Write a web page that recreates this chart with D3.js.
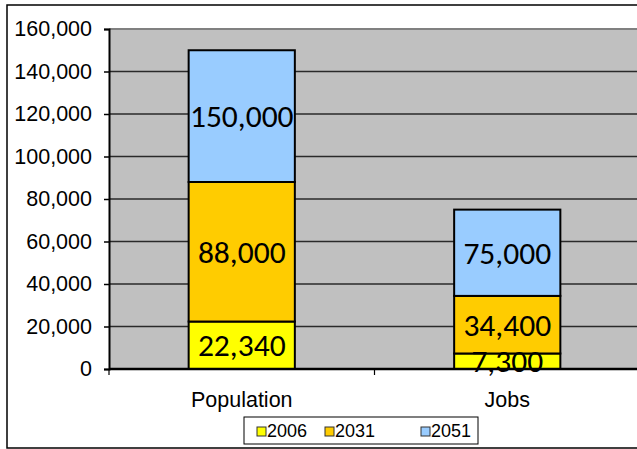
<!DOCTYPE html>
<html>
<head>
<meta charset="utf-8">
<script src="https://cdn.jsdelivr.net/npm/d3@7"></script>
<style>
  body { margin: 0; background: #fff; }
  svg { display: block; font-family: "Liberation Sans", Arial, sans-serif; }
</style>
</head>
<body>
<svg id="chart" width="637" height="449"></svg>
<script>
// chart data (labels show cumulative totals)
var categories = ["Population", "Jobs"];
var years = ["2006", "2031", "2051"];
var population = [22340, 88000, 150000];
var jobs = [7300, 34400, 75000];
var yTicks = [0, 20000, 40000, 60000, 80000, 100000, 120000, 140000, 160000];
var colors = ["#FFFF00", "#FFCC00", "#99CCFF"];

var rows = [population, jobs];

var svg = d3.select("#chart");

// outer chart border
svg.append("rect")
  .attr("x", 7).attr("y", 5)
  .attr("width", 640).attr("height", 443)
  .attr("fill", "#fff").attr("stroke", "#000").attr("stroke-width", 1.5);

var plot = {left: 109, right: 640, top: 29, bottom: 369};

var x = d3.scaleBand()
  .domain(categories)
  .range([plot.left, plot.right])
  .padding(0);

var y = d3.scaleLinear()
  .domain([0, 160000])
  .range([plot.bottom, plot.top]);

// plot background
svg.append("rect")
  .attr("x", plot.left).attr("y", plot.top)
  .attr("width", plot.right - plot.left).attr("height", plot.bottom - plot.top)
  .attr("fill", "#C0C0C0");

// gridlines
svg.selectAll("line.grid")
  .data(yTicks.filter(d => d > 0))
  .enter().append("line")
    .attr("class", "grid")
    .attr("x1", plot.left).attr("x2", plot.right)
    .attr("y1", d => y(d)).attr("y2", d => y(d))
    .attr("stroke", d => d == 160000 ? "#808080" : "#2a2a2a")
    .attr("stroke-width", d => d == 160000 ? 2 : 1.3);

// bars, each segment from the previous total to its own total
var barW = x.bandwidth() * 0.4;
var segs = [];
rows.forEach((vals, i) => {
  vals.forEach((v, j) => {
    segs.push({cat: categories[i], lo: j == 0 ? 0 : vals[j - 1], hi: v, k: j});
  });
});

svg.selectAll("rect.bar")
  .data(segs)
  .enter().append("rect")
    .attr("class", "bar")
    .attr("x", d => x(d.cat) + (x.bandwidth() - barW) / 2)
    .attr("width", barW)
    .attr("y", d => y(d.hi))
    .attr("height", d => y(d.lo) - y(d.hi))
    .attr("fill", d => colors[d.k])
    .attr("stroke", "#000")
    .attr("stroke-width", 2);

// y axis
var yAxis = svg.append("g")
  .attr("transform", "translate(" + plot.left + ",0)")
  .call(d3.axisLeft(y).tickValues(yTicks).tickFormat(d3.format(",")).tickSize(5).tickPadding(12));
yAxis.select(".domain").attr("stroke", "#000").attr("stroke-width", 2);
yAxis.selectAll(".tick line").attr("stroke", "#000").attr("stroke-width", 1.5);
yAxis.selectAll(".tick text")
  .attr("font-size", 21.5).attr("fill", "#000")
  .attr("font-family", "Liberation Sans, Arial, sans-serif");

// x axis
var xAxis = svg.append("g")
  .attr("transform", "translate(0," + plot.bottom + ")");
xAxis.append("line")
  .attr("x1", plot.left).attr("x2", plot.right)
  .attr("stroke", "#000").attr("stroke-width", 2.5);
xAxis.selectAll("line.ct")
  .data(categories)
  .enter().append("line")
    .attr("class", "ct")
    .attr("x1", d => x(d)).attr("x2", d => x(d))
    .attr("y1", 0).attr("y2", 6)
    .attr("stroke", "#000").attr("stroke-width", 1.2);
xAxis.selectAll("text")
  .data(categories)
  .enter().append("text")
    .attr("x", d => x(d) + x.bandwidth() / 2)
    .attr("y", 38)
    .attr("text-anchor", "middle")
    .attr("font-size", 21.5)
    .text(d => d);

// data labels
svg.selectAll("text.lbl")
  .data(segs)
  .enter().append("text")
    .attr("class", "lbl")
    .attr("x", d => x(d.cat) + x.bandwidth() / 2)
    .attr("y", d => y((d.lo + d.hi) / 2) + 11)
    .attr("text-anchor", "middle")
    .attr("font-family", "Carlito, Calibri, 'Open Sans', sans-serif")
    .attr("font-size", 31.5)
    .attr("fill", "#000")
    .text(d => d3.format(",")(d.hi));

// legend
var legend = svg.append("g");
legend.append("rect")
  .attr("x", 244).attr("y", 417)
  .attr("width", 234).attr("height", 27)
  .attr("fill", "#fff").attr("stroke", "#000").attr("stroke-width", 1);
var legX = [257, 325, 421];
years.forEach((yr, i) => {
  legend.append("rect")
    .attr("x", legX[i]).attr("y", 427)
    .attr("width", 9).attr("height", 9)
    .attr("fill", colors[i]).attr("stroke", "#333").attr("stroke-width", 1);
  legend.append("text")
    .attr("x", legX[i] + 10).attr("y", 437)
    .attr("font-size", 18)
    .text(yr);
});
</script>
</body>
</html>
